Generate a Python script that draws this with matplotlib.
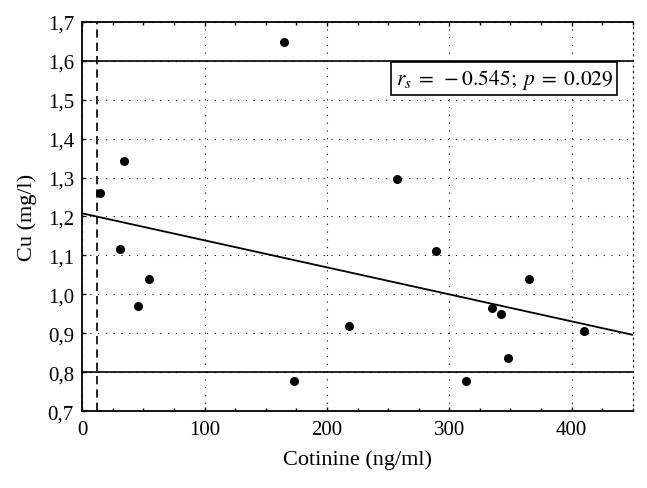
import matplotlib
matplotlib.use("Agg")
import matplotlib.pyplot as plt
import numpy as np
from matplotlib.ticker import MultipleLocator, FuncFormatter

plt.rcParams['font.family'] = ['Liberation Serif', 'DejaVu Serif']
plt.rcParams['mathtext.fontset'] = 'stix'

cotinine = [14.7, 34.3, 31.0, 54.4, 45.5, 165.2, 257.1, 289.0, 365.2, 335.2, 342.0, 217.7, 409.8, 348.3, 173.0, 313.7]
cu = [1.260, 1.343, 1.116, 1.040, 0.971, 1.647, 1.296, 1.112, 1.040, 0.966, 0.950, 0.918, 0.906, 0.837, 0.777, 0.777]

reg_intercept = 1.208
reg_slope = -0.000693
ref_low, ref_high = 0.8, 1.6
cutoff = 12
annotation = r"$r_s\;=\;-0.545;\;p\;=\;0.029$"

fig = plt.figure(figsize=(6.47, 4.89), dpi=100)
ax = fig.add_axes([0.1272, 0.1569, 0.8508, 0.7967])

ax.set_xlim(0, 450)
ax.set_ylim(0.7, 1.7)

ax.xaxis.set_major_locator(MultipleLocator(100))
ax.xaxis.set_minor_locator(MultipleLocator(25))
ax.yaxis.set_major_locator(MultipleLocator(0.1))
ax.yaxis.set_major_formatter(FuncFormatter(lambda v, p: f"{v:.1f}".replace('.', ',')))

ax.grid(True, which='major', color='black', linestyle=(0, (1, 6)), linewidth=0.8)
ax.set_axisbelow(True)

ax.tick_params(which='both', direction='in', top=True, right=False, labelsize=15, width=1)
ax.tick_params(which='major', length=3, pad=6)
ax.tick_params(which='minor', length=2.5)

for s in ['left', 'bottom', 'top']:
    ax.spines[s].set_linewidth(1.3)
ax.spines['right'].set_linestyle((0, (1, 4)))
ax.spines['right'].set_linewidth(0.8)

ax.axhline(ref_high, color='black', lw=1.2)
ax.axhline(ref_low, color='black', lw=1.2)
ax.axvline(cutoff, color='black', lw=1.2, linestyle=(0, (5, 3)))

xs = np.array([0, 450])
ax.plot(xs, reg_intercept + reg_slope * xs, color='black', lw=1.3)

ax.scatter(cotinine, cu, s=30, color='black', zorder=5)

ax.text(345, 1.554, annotation, ha='center', va='center', fontsize=15.5,
        bbox=dict(boxstyle='square,pad=0.2', fc='white', ec='black', lw=1.2))

ax.set_xlabel("Cotinine (ng/ml)", fontsize=16, labelpad=8)
ax.set_ylabel("Cu (mg/l)", fontsize=16, labelpad=8)

fig.savefig("out.png", dpi=100)
